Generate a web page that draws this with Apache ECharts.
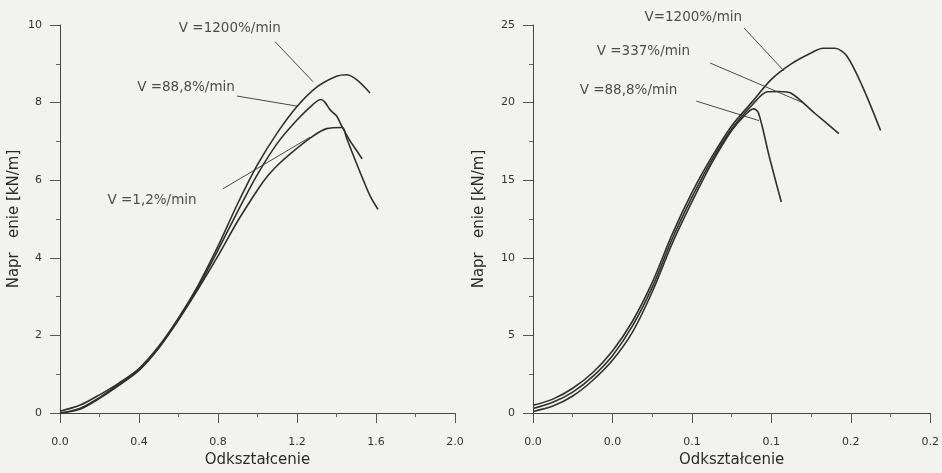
<!DOCTYPE html>
<html>
<head>
<meta charset="utf-8">
<script src="https://cdn.jsdelivr.net/npm/echarts@6/dist/echarts.min.js"></script>
<style>
html, body { margin: 0; padding: 0; background: #f2f2f0; }
#main { width: 942px; height: 473px; }
</style>
</head>
<body>
<div id="main"></div>
<script>
// lewy wykres: odksztalcenie / naprezenie [kN/m]
var leftV1200 = [[0,0.05],[0.1,0.2],[0.2,0.47],[0.3,0.78],[0.4,1.15],[0.5,1.72],[0.6,2.45],[0.7,3.3],[0.8,4.3],[0.9,5.4],[1.0,6.4],[1.1,7.22],[1.2,7.9],[1.3,8.4],[1.4,8.68],[1.45,8.72],[1.5,8.6],[1.57,8.25]];
var leftV888 = [[0,0],[0.1,0.1],[0.2,0.38],[0.3,0.72],[0.4,1.1],[0.5,1.68],[0.6,2.42],[0.7,3.25],[0.8,4.2],[0.9,5.2],[1.0,6.15],[1.1,6.95],[1.2,7.55],[1.28,7.95],[1.32,8.08],[1.34,8.02],[1.37,7.8],[1.4,7.66],[1.43,7.36],[1.47,7.0],[1.5,6.78],[1.53,6.55]];
var leftV12 = [[0,0],[0.1,0.12],[0.2,0.4],[0.3,0.75],[0.4,1.12],[0.5,1.68],[0.6,2.4],[0.7,3.2],[0.8,4.05],[0.9,4.95],[1.0,5.75],[1.05,6.1],[1.1,6.38],[1.17,6.7],[1.27,7.1],[1.35,7.33],[1.43,7.36],[1.45,7.1],[1.5,6.45],[1.54,5.95],[1.57,5.6],[1.61,5.25]];

// prawy wykres
var rightV1200 = [[0,0.5],[0.01,0.9],[0.02,1.6],[0.03,2.6],[0.04,4.0],[0.05,5.9],[0.06,8.4],[0.07,11.5],[0.08,14.2],[0.09,16.5],[0.1,18.5],[0.11,20.0],[0.12,21.5],[0.13,22.5],[0.14,23.2],[0.146,23.5],[0.152,23.5],[0.158,23.0],[0.166,21.0],[0.175,18.2]];
var rightV337 = [[0,0.3],[0.01,0.7],[0.02,1.35],[0.03,2.35],[0.04,3.7],[0.05,5.6],[0.06,8.1],[0.07,11.2],[0.08,13.9],[0.09,16.3],[0.1,18.3],[0.11,19.8],[0.118,20.7],[0.124,20.72],[0.13,20.6],[0.142,19.3],[0.154,18.0]];
var rightV888 = [[0,0.1],[0.01,0.45],[0.02,1.1],[0.03,2.1],[0.04,3.4],[0.05,5.2],[0.06,7.8],[0.07,10.9],[0.08,13.6],[0.09,16.1],[0.1,18.2],[0.106,19.1],[0.111,19.6],[0.1135,19.35],[0.119,16.5],[0.125,13.6]];

// opisy krzywych (w jednostkach osi)
var leftLabels = [
    {name: 'V =1200%/min', value: [0.86, 9.9]},
    {name: 'V =88,8%/min', value: [0.638, 8.39]},
    {name: 'V =1,2%/min', value: [0.466, 5.48]}
];
var leftLeaders = [
    {coords: [[1.089, 9.57], [1.281, 8.54]]},
    {coords: [[0.896, 8.17], [1.2, 7.91]]},
    {coords: [[0.825, 5.78], [1.266, 7.11]]}
];
var rightLabels = [
    {name: 'V=1200%/min', value: [0.0807, 25.5]},
    {name: 'V =337%/min', value: [0.0556, 23.3]},
    {name: 'V =88,8%/min', value: [0.0481, 20.8]}
];
var rightLeaders = [
    {coords: [[0.1063, 24.8], [0.1263, 22.05]]},
    {coords: [[0.0892, 22.55], [0.1363, 19.97]]},
    {coords: [[0.0822, 20.1], [0.1138, 18.84]]}
];

var xName = 'Odkształcenie';
var yName = 'Napr   enie [kN/m]';

var myChart = echarts.init(document.getElementById('main'));

var lineCol = '#303030';
var font = 'DejaVu Sans';

function xAx(gi, max, step) {
    return {
        gridIndex: gi,
        type: 'value',
        min: 0,
        max: max,
        interval: step,
        name: xName,
        nameLocation: 'middle',
        nameGap: 35,
        nameTextStyle: {color: '#2a2a2a', fontSize: 15, fontFamily: font},
        axisLine: {show: true, lineStyle: {color: '#444', width: 1}},
        axisTick: {show: true, length: 10, lineStyle: {color: '#555'}},
        minorTick: {show: true, splitNumber: 2, length: 4, lineStyle: {color: '#666'}},
        axisLabel: {
            color: '#333', fontSize: 11, fontFamily: font, margin: 24,
            formatter: function(v){ return v.toFixed(1); }
        },
        splitLine: {show: false}
    };
}

function yAx(gi, max, step, gap) {
    return {
        gridIndex: gi,
        type: 'value',
        min: 0,
        max: max,
        interval: step,
        name: yName,
        nameLocation: 'middle',
        nameGap: gap,
        nameTextStyle: {color: '#2a2a2a', fontSize: 15, fontFamily: font},
        axisLine: {show: true, lineStyle: {color: '#444', width: 1}},
        axisTick: {show: true, length: 10, lineStyle: {color: '#555'}},
        minorTick: {show: true, splitNumber: 2, length: 4, lineStyle: {color: '#666'}},
        axisLabel: {color: '#333', fontSize: 11, fontFamily: font, margin: 18},
        splitLine: {show: false}
    };
}

function curve(gi, data) {
    return {
        type: 'line',
        xAxisIndex: gi,
        yAxisIndex: gi,
        data: data,
        smooth: 0.3,
        symbol: 'none',
        lineStyle: {color: lineCol, width: 1.6}
    };
}

function leaders(gi, data) {
    return {
        type: 'lines',
        coordinateSystem: 'cartesian2d',
        xAxisIndex: gi,
        yAxisIndex: gi,
        data: data,
        lineStyle: {color: '#4a4a4a', width: 1, opacity: 1, curveness: 0},
        silent: true
    };
}

function labels(gi, data) {
    return {
        type: 'scatter',
        xAxisIndex: gi,
        yAxisIndex: gi,
        data: data,
        symbolSize: 0,
        clip: false,
        silent: true,
        label: {
            show: true,
            position: 'inside',
            formatter: '{b}',
            color: '#222',
            fontSize: 13.5,
            fontFamily: font
        }
    };
}

var option = {
    backgroundColor: '#f2f2f0',
    animation: false,
    grid: [
        {left: 60, top: 25, width: 395, height: 398},
        {left: 533, top: 25, width: 399, height: 398}
    ],
    xAxis: [xAx(0, 2, 0.4), xAx(1, 0.2, 0.04)],
    yAxis: [yAx(0, 10, 2, 38), yAx(1, 25, 5, 46)],
    series: [
        curve(0, leftV1200),
        curve(0, leftV888),
        curve(0, leftV12),
        curve(1, rightV1200),
        curve(1, rightV337),
        curve(1, rightV888),
        leaders(0, leftLeaders),
        leaders(1, rightLeaders),
        labels(0, leftLabels),
        labels(1, rightLabels)
    ]
};

if (option && typeof option === "object") {
    myChart.setOption(option, true);
}
</script>
</body>
</html>
